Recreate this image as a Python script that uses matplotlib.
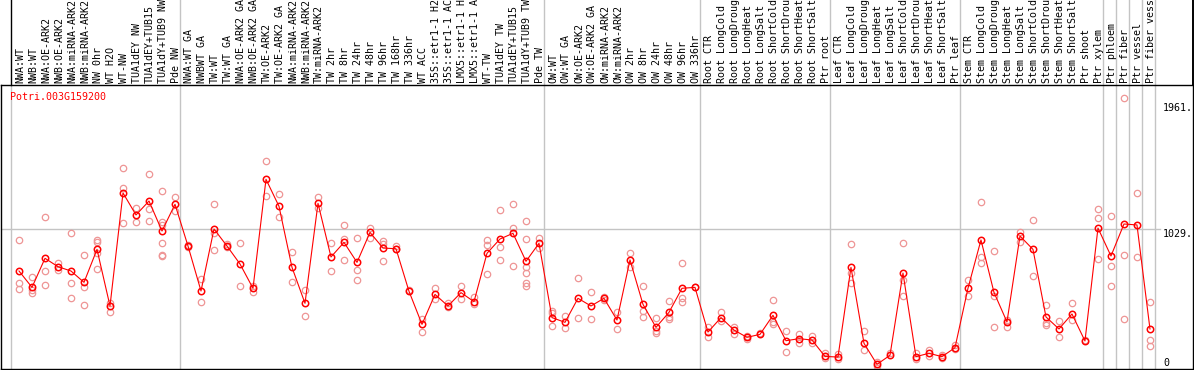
import matplotlib
matplotlib.use("Agg")
import matplotlib.pyplot as plt

gene = "Potri.003G159200"

labels = [
    "NWA:WT", "NWB:WT", "NWA:OE-ARK2", "NWB:OE-ARK2", "NWA:miRNA-ARK2", "NWB:miRNA-ARK2",
    "NW 0hr", "WT H2O", "WT-NW", "TUA1dEY NW", "TUA1dEY+TUB15", "TUA1dY+TUB9 NW", "Pde NW",
    "NWA:WT GA", "NWBWT GA", "TW:WT", "TW:WT GA", "NWA:OE-ARK2 GA", "NWB:OE-ARK2 GA",
    "TW:OE-ARK2", "TW:OE-ARK2 GA", "NWA:miRNA-ARK2", "NWB:miRNA-ARK2", "TW:miRNA-ARK2",
    "TW 2hr", "TW 8hr", "TW 24hr", "TW 48hr", "TW 96hr", "TW 168hr", "TW 336hr", "WT ACC",
    "35S::etr1-1 H2", "35S::etr1-1 AC", "LMX5::etr1-1 H", "LMX5::etr1-1 A", "WT-TW",
    "TUA1dEY TW", "TUA1dEY+TUB15", "TUA1dY+TUB9 TW", "Pde TW",
    "OW:WT", "OW:WT GA", "OW:OE-ARK2", "OW:OE-ARK2 GA", "OW:miRNA-ARK2", "OW:miRNA-ARK2",
    "OW 2hr", "OW 8hr", "OW 24hr", "OW 48hr", "OW 96hr", "OW 336hr",
    "Root CTR", "Root LongCold", "Root LongDroug", "Root LongHeat", "Root LongSalt",
    "Root ShortCold", "Root ShortDrou", "Root ShortHeat", "Root ShortSalt", "Ptr root",
    "Leaf CTR", "Leaf LongCold", "Leaf LongDroug", "Leaf LongHeat", "Leaf LongSalt",
    "Leaf ShortCold", "Leaf ShortDrou", "Leaf ShortHeat", "Leaf ShortSalt", "Ptr leaf",
    "Stem CTR", "Stem LongCold", "Stem LongDroug", "Stem LongHeat", "Stem LongSalt",
    "Stem ShortCold", "Stem ShortDrou", "Stem ShortHeat", "Stem ShortSalt", "Ptr shoot",
    "Ptr xylem", "Ptr phloem", "Ptr fiber", "Ptr vessel", "Ptr fiber vess",
]

means = [
    718, 597, 812, 750, 718, 634, 878, 459, 1296, 1133, 1236, 1014, 1212,
    903, 570, 1029, 903, 770, 590, 1397, 1197, 745, 479, 1219, 822, 930, 782, 1004,
    888, 883, 568, 323, 545, 459, 558, 491, 849, 955, 997, 790, 923,
    373, 338, 516, 459, 516, 355, 800, 471, 301, 412, 590, 597,
    266, 373, 281, 227, 249, 390, 202, 217, 207, 86,
    81, 745, 183, 27, 94, 703, 84, 109, 84, 150,
    590, 948, 560, 341, 977, 878, 378, 289, 400, 200, 1036,
    829, 1066, 1059, 289,
]

replicates = [
    [948, 627, 582], [671, 577, 558], [1118, 718, 612], [780, 725], [997, 627, 516],
    [834, 602, 464], [948, 935, 849, 730], [484, 417], [1478, 1335, 1071], [1182, 1078],
    [1436, 1180, 1088], [1310, 1083, 1059, 923, 834, 829], [1268, 1165],
    [911, 893], [656, 489], [1212, 997, 871], [918, 898], [923, 607], [607, 565],
    [1532, 1273], [1288, 1115], [856, 637], [577, 385], [1268, 1182], [923, 716],
    [1059, 953, 797], [960, 728, 649], [1039, 960], [943, 918, 790], [906, 878], [577],
    [360, 264], [590, 508], [479, 449], [607, 513], [528, 471], [948, 911, 696],
    [1170, 898, 797], [1212, 1039, 753], [1088, 953, 750, 703, 632, 607], [965, 886],
    [424, 405, 313], [385, 299], [664, 368], [560, 360], [528, 503], [417, 289],
    [849, 750], [607, 424, 375], [368, 276, 262], [496, 380, 365], [777, 516, 491], [602],
    [301, 227], [417, 350], [306, 252], [237, 217], [257], [503, 343, 323], [271, 118],
    [252, 183], [237, 183], [114, 72],
    [101, 64], [918, 706, 627], [271, 133], [47, 15], [109], [923, 651, 533], [109, 64],
    [133, 91], [96, 74], [170, 138],
    [651, 533], [1229, 824, 780], [864, 533, 301], [355, 306], [1009, 935], [1093, 681],
    [466, 336, 318], [350, 227], [484, 355], [207], [1177, 1113, 804],
    [1125, 755, 607], [1996, 837, 360], [1296, 822], [489, 207, 163],
]

axis_ticks = [0, 1029, 1961]
axis_tick_labels = ["0", "1029.", "1961."]
group_bounds = [-0.6, 12.4, 40.4, 52.4, 62.4, 72.4, 83.4, 84.4, 85.4, 86.4, 87.4]

W, H = 1194, 370
fig = plt.figure(figsize=(W / 100, H / 100), dpi=100)
ax = fig.add_axes([1 / W, 1 / H, 1192 / W, 284 / H])
ax.set_xlim(-1.385, 90.31)
ax.set_ylim(-7.4, 2095)
ax.set_xticks([])
ax.set_yticks([])
for s in ax.spines.values():
    s.set_linewidth(1.0)
    s.set_color("black")

mono = "DejaVu Sans Mono"
fs = 7.2
grid_c = "#C4C4C4"
top_ext = 1.31

# vertical group lines extending through label area
for i, b in enumerate(group_bounds):
    ax.axvline(b, ymin=0, ymax=1, color=grid_c, lw=1.0, zorder=1)
    ax.axvline(b, ymin=1, ymax=top_ext, color=("black" if i == 0 else grid_c),
               lw=1.0, clip_on=False, zorder=1)
ax.axvline(90.31, ymin=1, ymax=top_ext, color="black", lw=1.4, clip_on=False)

# horizontal gridline
ax.plot([-1.385, 87.8], [axis_ticks[1], axis_ticks[1]], color=grid_c, lw=1.0, zorder=1)

x = list(range(len(means)))
rx, ry = [], []
for i, reps in enumerate(replicates):
    for v in reps:
        rx.append(i)
        ry.append(v)

ax.plot(rx, ry, linestyle="none", marker="o", ms=4.6, mfc="none", mec="#EE9595",
        mew=0.9, zorder=2)
ax.plot(x, means, color="red", lw=0.8, zorder=3)
ax.plot(x, means, linestyle="none", marker="o", ms=4.6, mfc="none", mec="red",
        mew=1.1, zorder=4)

# column labels
trans = ax.get_xaxis_transform()
for i, lab in enumerate(labels):
    ax.text(i + 0.08, 1 + 2.0 / 284, lab, rotation=90, ha="center", va="bottom",
            fontsize=fs, family=mono, color="black", transform=trans, clip_on=False)

# gene name
ax.text(9 / 1192 - 0.0, 1 - 7 / 284, gene, transform=ax.transAxes, ha="left",
        va="top", fontsize=fs, family=mono, color="red")

# right-side scale labels
for v, t in zip(axis_ticks, axis_tick_labels):
    if v == 0:
        ax.text(88.0, 2, t, ha="left", va="bottom", fontsize=fs, family=mono, color="black")
    else:
        ax.text(88.0, v, t, ha="left", va="top", fontsize=fs, family=mono, color="black")

fig.savefig("out.png", dpi=100)
